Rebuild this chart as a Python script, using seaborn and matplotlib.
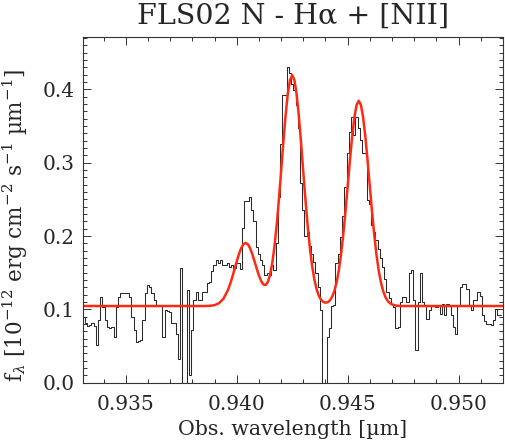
import numpy as np
import matplotlib
matplotlib.use("Agg")
import matplotlib.pyplot as plt
from matplotlib.ticker import MultipleLocator, FormatStrFormatter
import seaborn as sns

# observed spectrum, one value per 0.0001 um pixel starting at 0.9331 um
wl_start = 0.9331
wl_step = 0.0001
flux = [
    0.090, 0.081, 0.077, 0.079, 0.081, 0.078, 0.051, 0.085, 0.117, 0.103,
    0.085, 0.076, 0.074, 0.076, 0.063, 0.103, 0.117, 0.122, 0.122, 0.122,
    0.122, 0.117, 0.090, 0.072, 0.056, 0.057, 0.058, 0.085, 0.122, 0.133,
    0.131, 0.122, 0.113, 0.104, 0.106, 0.104, 0.063, 0.099, 0.098, 0.097,
    0.081, 0.081, 0.067, 0.032, 0.156, -0.020, -0.020, 0.127, 0.010, 0.072,
    0.113, 0.124, 0.113, 0.113, 0.124, 0.124, 0.136, 0.138, 0.152, 0.160,
    0.168, 0.163, 0.168, 0.161, 0.161, 0.163, 0.158, 0.161, 0.156, 0.163,
    0.163, 0.155, 0.211, 0.248, 0.248, 0.253, 0.236, 0.220, 0.185, 0.176,
    0.168, 0.160, 0.147, 0.150, 0.147, 0.161, 0.154, 0.190, 0.253, 0.326,
    0.392, 0.392, 0.430, 0.422, 0.408, 0.399, 0.379, 0.347, 0.272, 0.236,
    0.200, 0.205, 0.186, 0.176, 0.165, 0.150, 0.131, 0.099, -0.020, -0.020,
    0.063, 0.074, 0.104, 0.106, 0.163, 0.176, 0.199, 0.227, 0.267, 0.313,
    0.342, 0.363, 0.338, 0.363, 0.347, 0.331, 0.313, 0.313, 0.249, 0.244,
    0.215, 0.205, 0.195, 0.183, 0.170, 0.158, 0.142, 0.124, 0.115, 0.108,
    0.103, 0.074, 0.076, 0.110, 0.117, 0.117, 0.110, 0.150, 0.154, 0.113,
    0.044, 0.110, 0.149, 0.110, 0.106, 0.087, 0.099, 0.104, 0.106, 0.103,
    0.105, 0.094, 0.108, 0.093, 0.108, 0.105, 0.093, 0.076, 0.067, 0.105,
    0.131, 0.135, 0.135, 0.128, 0.106, 0.099, 0.113, 0.113, 0.124, 0.118,
    0.093, 0.084, 0.080, 0.080, 0.079, 0.085, 0.100, 0.093, 0.093,
]

# fitted model (red curve)
fit_wl = [
    0.9330, 0.9386, 0.9388, 0.9390, 0.9392, 0.9394, 0.9396, 0.9397, 0.9398, 0.9399,
    0.9400, 0.9401, 0.9402, 0.9403, 0.9404, 0.9405, 0.9406, 0.9407, 0.9408, 0.9409,
    0.9410, 0.9411, 0.9412, 0.9413, 0.9414, 0.9415, 0.9416, 0.9417, 0.9418, 0.9419,
    0.9420, 0.9421, 0.9422, 0.9423, 0.9424, 0.9425, 0.9426, 0.9427, 0.9428, 0.9429,
    0.9430, 0.9431, 0.9432, 0.9433, 0.9434, 0.9435, 0.9436, 0.9437, 0.9438, 0.9439,
    0.9440, 0.9441, 0.9442, 0.9443, 0.9444, 0.9445, 0.9446, 0.9447, 0.9448, 0.9449,
    0.9450, 0.9451, 0.9452, 0.9453, 0.9454, 0.9455, 0.9456, 0.9457, 0.9458, 0.9459,
    0.9460, 0.9461, 0.9462, 0.9463, 0.9464, 0.9465, 0.9466, 0.9467, 0.9468, 0.9469,
    0.9470, 0.9472, 0.9474, 0.9520,
]
fit_flux = [
    0.1046, 0.1046, 0.1049, 0.1058, 0.1084, 0.1144, 0.1260, 0.1343, 0.1440, 0.1546,
    0.1654, 0.1753, 0.1835, 0.1888, 0.1906, 0.1889, 0.1836, 0.1756, 0.1660, 0.1558,
    0.1464, 0.1388, 0.1340, 0.1332, 0.1372, 0.1468, 0.1627, 0.1854, 0.2146, 0.2495,
    0.2880, 0.3273, 0.3637, 0.3934, 0.4128, 0.4196, 0.4128, 0.3934, 0.3637, 0.3272,
    0.2877, 0.2488, 0.2134, 0.1832, 0.1589, 0.1407, 0.1275, 0.1186, 0.1131, 0.1102,
    0.1091, 0.1098, 0.1123, 0.1172, 0.1250, 0.1366, 0.1529, 0.1744, 0.2013, 0.2328,
    0.2674, 0.3025, 0.3349, 0.3613, 0.3786, 0.3846, 0.3786, 0.3613, 0.3349, 0.3025,
    0.2674, 0.2328, 0.2013, 0.1744, 0.1529, 0.1366, 0.1250, 0.1169, 0.1117, 0.1086,
    0.1067, 0.1050, 0.1046, 0.1046,
]

wl = wl_start + wl_step * np.arange(len(flux))

sns.set_style("ticks")
plt.rcParams["font.family"] = ["DejaVu Serif"]
plt.rcParams["mathtext.fontset"] = "dejavuserif"

fig = plt.figure(figsize=(5.05, 4.42), dpi=100)
ax = fig.add_axes([0.1638, 0.1342, 0.8322, 0.7828])

sns.lineplot(x=wl, y=flux, ax=ax, color="#2a2a2a", lw=0.75,
             drawstyle="steps-mid", estimator=None, sort=True)
sns.lineplot(x=fit_wl, y=fit_flux, ax=ax, color="#ff2a14", lw=1.8,
             estimator=None, sort=True)

ax.set_xlim(0.93306, 0.9520)
ax.set_ylim(0.0, 0.472)

ax.xaxis.set_major_locator(MultipleLocator(0.005))
ax.xaxis.set_minor_locator(MultipleLocator(0.001))
ax.yaxis.set_major_locator(MultipleLocator(0.1))
ax.yaxis.set_minor_locator(MultipleLocator(0.01))
ax.xaxis.set_major_formatter(FormatStrFormatter("%.3f"))
ax.yaxis.set_major_formatter(FormatStrFormatter("%.1f"))

ax.tick_params(which="both", direction="in", top=True, right=True,
               color="#333333", width=0.7, labelsize=14.5)
ax.tick_params(which="major", length=6, pad=9)
ax.tick_params(axis="y", which="major", pad=6)
ax.tick_params(which="minor", length=3)
for s in ax.spines.values():
    s.set_color("#333333")
    s.set_linewidth(0.8)

ax.set_title("FLS02 N - H\u03b1 + [NII]", fontsize=20.5, pad=9)
ax.set_xlabel("Obs. wavelength [\u00b5m]", fontsize=14.8, labelpad=4)
ax.set_ylabel("f$_\\lambda$ [10$^{-12}$ erg cm$^{-2}$ s$^{-1}$ \u00b5m$^{-1}$]",
              fontsize=15.5)
ax.yaxis.set_label_coords(-0.125, 0.453)

fig.savefig("out.png", dpi=100)
